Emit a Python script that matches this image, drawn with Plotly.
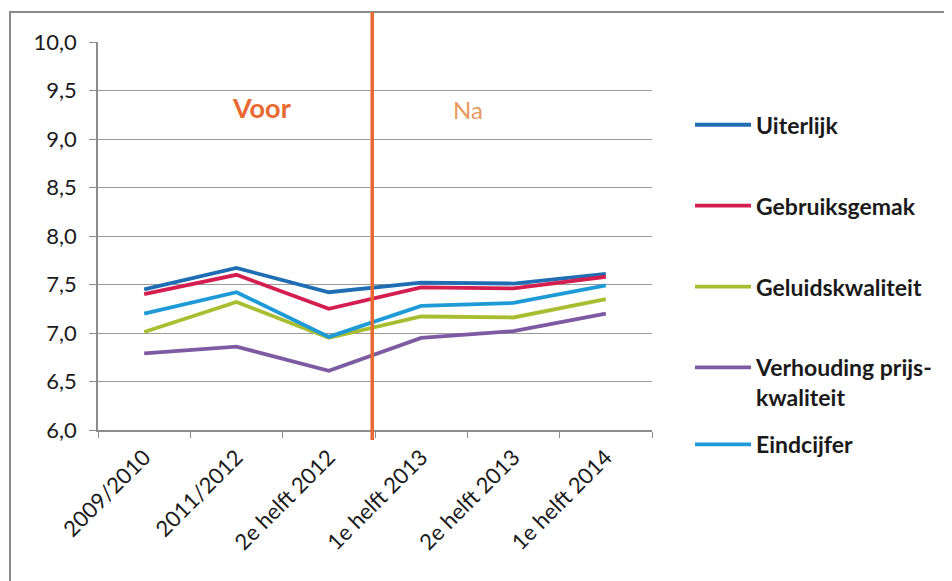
import plotly.graph_objects as go

categories = ["2009/2010", "2011/2012", "2e helft 2012", "1e helft 2013", "2e helft 2013", "1e helft 2014"]
uiterlijk = [7.45, 7.67, 7.42, 7.52, 7.51, 7.61]
gebruiksgemak = [7.40, 7.60, 7.25, 7.47, 7.46, 7.58]
geluidskwaliteit = [7.01, 7.32, 6.95, 7.17, 7.16, 7.35]
verhouding = [6.79, 6.86, 6.61, 6.95, 7.02, 7.20]
eindcijfer = [7.20, 7.42, 6.96, 7.28, 7.31, 7.49]

series = [
    ("Uiterlijk", uiterlijk, "#1F6DB3", "legend"),
    ("Gebruiksgemak", gebruiksgemak, "#D41E50", "legend"),
    ("Geluidskwaliteit", geluidskwaliteit, "#A8BE30", "legend"),
    ("Verhouding prijs-<br>kwaliteit", verhouding, "#7E5AA3", "legend"),
    ("Eindcijfer", eindcijfer, "#1E9AD6", "legend2"),
]

fig = go.Figure()
for i, (name, vals, col, lg) in enumerate(series):
    fig.add_trace(go.Scatter(
        x=categories, y=vals, name=name, mode="lines",
        line=dict(color=col, width=3.8), legendgroup=str(i), legend=lg,
    ))

W, H = 944, 573
ml, mr, mt, mb = 90, 300, 34, 151
pw, ph = W - ml - mr, H - mt - mb

legend_font = dict(size=23, color="#1a1a1a", family="Lato, sans-serif", weight="bold")

fig.update_layout(
    width=W, height=H,
    margin=dict(l=ml, r=mr, t=mt, b=mb),
    paper_bgcolor="white", plot_bgcolor="white",
    separators=",.",
    font=dict(family="Lato, Noto Sans, sans-serif", color="#1a1a1a", size=22),
    showlegend=True,
    legend=dict(
        x=1.0686, xanchor="left", y=0.842, yanchor="top",
        font=legend_font, tracegroupgap=48, itemwidth=56,
        bgcolor="rgba(0,0,0,0)", valign="top",
    ),
    legend2=dict(
        x=1.0686, xanchor="left", y=0.018, yanchor="top",
        font=legend_font, itemwidth=56,
        bgcolor="rgba(0,0,0,0)", valign="top",
    ),
    xaxis=dict(
        type="category", range=[-0.5, 5.5],
        showline=True, linecolor="#8c8c8c", linewidth=1.5,
        ticks="outside", tickson="boundaries", ticklen=6, tickcolor="#8c8c8c",
        showgrid=False, tickangle=-45, ticklabelstandoff=4,
        tickfont=dict(size=22, color="#1a1a1a"),
    ),
    yaxis=dict(
        range=[6, 10], dtick=0.5, tickformat=".1f",
        showline=True, linecolor="#8c8c8c", linewidth=1.5,
        ticks="outside", ticklen=7, tickcolor="#8c8c8c",
        showgrid=True, gridcolor="#9a9a9a", gridwidth=1.2,
        zeroline=False, ticklabelstandoff=8,
        tickfont=dict(size=22, color="#1a1a1a"),
    ),
)

# outer border frame
fig.add_shape(type="rect", xref="paper", yref="paper",
              x0=(2 - ml) / pw, x1=(W + 20 - ml) / pw,
              y0=(H - mb - (H + 20)) / ph, y1=(H - mb - 4) / ph,
              line=dict(color="#8a8a8a", width=2), fillcolor="rgba(0,0,0,0)", layer="below")

# before/after divider
fig.add_shape(type="line", xref="x", yref="paper",
              x0=2.47, x1=2.47,
              y0=(H - mb - 432) / ph, y1=(H - mb - 4) / ph,
              line=dict(color="#E8692F", width=3.5))

fig.add_annotation(x=1.27, y=9.32, xref="x", yref="y", text="<b>Voor</b>",
                   showarrow=False, font=dict(size=27, color="#E8692F", family="Lato, sans-serif"))
fig.add_annotation(x=3.51, y=9.30, xref="x", yref="y", text="Na",
                   showarrow=False, font=dict(size=24, color="#E9995E", family="Lato, sans-serif"))

fig.write_html("out.html")
